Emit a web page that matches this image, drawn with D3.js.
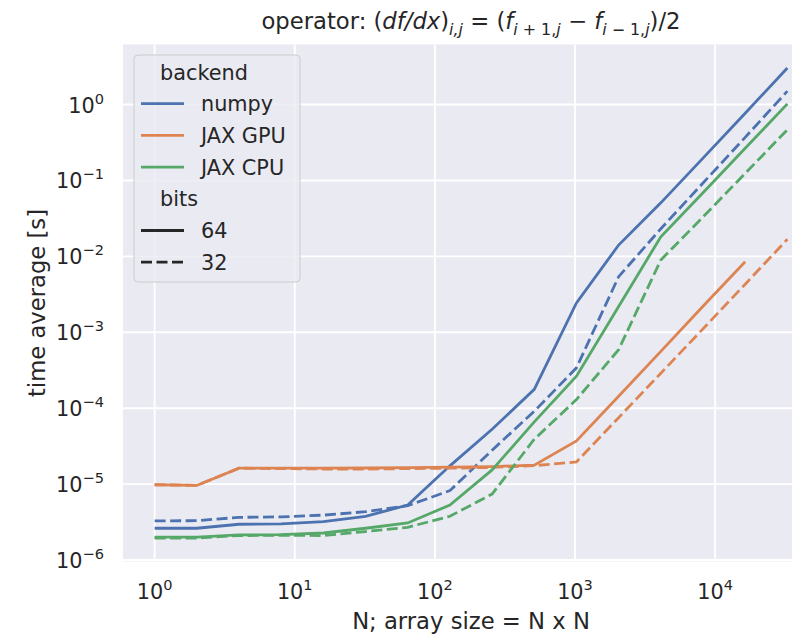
<!DOCTYPE html>
<meta charset="utf-8">
<head>
    <title>operator timing</title>
    <script src="https://cdn.jsdelivr.net/npm/d3@7"></script>
    <style>
        body { margin: 0; background: #fff; }
        text { font-family: "DejaVu Sans", sans-serif; fill: #262626; }
    </style>
</head>
<body>
    <svg></svg>
    <script>
        // chart values
        var sizes = [1, 2, 4, 8, 16, 32, 64, 128, 256, 512, 1024, 2048, 4096, 8192, 16384, 32768];

        var numpy64 = [2.62e-6, 2.62e-6, 2.96e-6, 3.0e-6, 3.2e-6, 3.77e-6, 5.3e-6, 1.74e-5, 5.27e-5, 1.77e-4, 2.43e-3, 1.41e-2, 5.07e-2, 0.197, 0.769, 3.03];
        var numpy32 = [3.27e-6, 3.3e-6, 3.65e-6, 3.7e-6, 3.9e-6, 4.33e-6, 5.2e-6, 8.2e-6, 2.8e-5, 9.1e-5, 3.4e-4, 5.4e-3, 2.31e-2, 9.25e-2, 0.37, 1.5];
        var gpu64 = [0.98e-5, 0.96e-5, 1.62e-5, 1.62e-5, 1.62e-5, 1.63e-5, 1.65e-5, 1.67e-5, 1.7e-5, 1.78e-5, 3.7e-5, 1.44e-4, 5.6e-4, 2.2e-3, 8.5e-3];
        var gpu32 = [0.98e-5, 0.96e-5, 1.62e-5, 1.6e-5, 1.58e-5, 1.58e-5, 1.6e-5, 1.62e-5, 1.66e-5, 1.75e-5, 1.96e-5, 7.5e-5, 2.89e-4, 1.11e-3, 4.3e-3, 1.68e-2];
        var cpu64 = [2.0e-6, 2.0e-6, 2.14e-6, 2.16e-6, 2.27e-6, 2.62e-6, 3.08e-6, 5.3e-6, 1.54e-5, 6.6e-5, 2.64e-4, 2.19e-3, 1.81e-2, 6.9e-2, 0.265, 1.02];
        var cpu32 = [1.95e-6, 1.95e-6, 2.1e-6, 2.12e-6, 2.1e-6, 2.37e-6, 2.7e-6, 3.77e-6, 7.4e-6, 3.9e-5, 1.3e-4, 5.9e-4, 8.97e-3, 3.3e-2, 0.124, 0.466];

        var backends = ["numpy", "JAX GPU", "JAX CPU"];
        var bits = ["64", "32"];
        var xTickExp = [0, 1, 2, 3, 4];
        var yTickExp = [-6, -5, -4, -3, -2, -1, 0];

        var series = [
            { backend: "numpy", bits: "64", values: numpy64 },
            { backend: "numpy", bits: "32", values: numpy32 },
            { backend: "JAX GPU", bits: "64", values: gpu64 },
            { backend: "JAX GPU", bits: "32", values: gpu32 },
            { backend: "JAX CPU", bits: "64", values: cpu64 },
            { backend: "JAX CPU", bits: "32", values: cpu32 }
        ];

        var colors = { "numpy": "#4c72b0", "JAX GPU": "#dd8452", "JAX CPU": "#55a868" };
        var dashes = { "64": null, "32": "11,4.5" };

        w = 792;
        h = 635;
        var pLeft = 123, pRight = 819, pTop = 44.5, pBottom = 561.5;

        var svg = d3.select("svg")
            .attr("width", w)
            .attr("height", h);

        // log axes with 5% margins like matplotlib
        var allY = [].concat(numpy64, numpy32, gpu64, gpu32, cpu64, cpu32);
        var lx0 = Math.log10(sizes[0]), lx1 = Math.log10(sizes[sizes.length - 1]);
        var mx = (lx1 - lx0) * 0.05;
        var ly0 = Math.log10(d3.min(allY)), ly1 = Math.log10(d3.max(allY));
        var my = (ly1 - ly0) * 0.05;

        var x = d3.scaleLog()
            .domain([Math.pow(10, lx0 - mx), Math.pow(10, lx1 + mx)])
            .range([pLeft, pRight]);
        var y = d3.scaleLog()
            .domain([Math.pow(10, ly0 - my), Math.pow(10, ly1 + my)])
            .range([pBottom, pTop]);

        svg.append("clipPath").attr("id", "plotclip")
            .append("rect")
            .attr("x", pLeft).attr("y", pTop)
            .attr("width", pRight - pLeft).attr("height", pBottom - pTop);

        svg.append("rect")
            .attr("x", pLeft).attr("y", pTop)
            .attr("width", pRight - pLeft).attr("height", pBottom - pTop)
            .attr("fill", "#eaeaf2");

        var grid = svg.append("g").attr("clip-path", "url(#plotclip)");
        grid.selectAll(".vg")
            .data(xTickExp)
            .enter().append("line")
            .attr("x1", function (d) { return x(Math.pow(10, d)); })
            .attr("x2", function (d) { return x(Math.pow(10, d)); })
            .attr("y1", pTop).attr("y2", pBottom)
            .attr("stroke", "#fff").attr("stroke-width", 1.9);
        grid.selectAll(".hg")
            .data(yTickExp)
            .enter().append("line")
            .attr("y1", function (d) { return y(Math.pow(10, d)); })
            .attr("y2", function (d) { return y(Math.pow(10, d)); })
            .attr("x1", pLeft).attr("x2", pRight)
            .attr("stroke", "#fff").attr("stroke-width", 1.9);

        var line = d3.line()
            .x(function (d, i) { return x(sizes[i]); })
            .y(function (d) { return y(d); });

        svg.append("g").attr("clip-path", "url(#plotclip)")
            .selectAll("path")
            .data(series)
            .enter().append("path")
            .attr("d", function (d) { return line(d.values); })
            .attr("fill", "none")
            .attr("stroke", function (d) { return colors[d.backend]; })
            .attr("stroke-width", 2.8)
            .attr("stroke-dasharray", function (d) { return dashes[d.bits]; });

        // tick labels as 10^n
        function powLabel(sel, e) {
            sel.append("tspan").text("10");
            sel.append("tspan")
                .attr("font-size", "0.7em")
                .attr("dy", "-0.62em")
                .text(e < 0 ? "\u2212" + (-e) : String(e));
        }

        svg.selectAll(".xt")
            .data(xTickExp)
            .enter().append("text")
            .attr("x", function (d) { return x(Math.pow(10, d)); })
            .attr("y", 599)
            .attr("text-anchor", "middle")
            .attr("font-size", 20.8)
            .each(function (d) { powLabel(d3.select(this), d); });

        svg.selectAll(".yt")
            .data(yTickExp)
            .enter().append("text")
            .attr("x", 104)
            .attr("y", function (d) { return y(Math.pow(10, d)) + 8; })
            .attr("text-anchor", "end")
            .attr("font-size", 20.8)
            .each(function (d) { powLabel(d3.select(this), d); });

        svg.append("text")
            .attr("x", (pLeft + pRight) / 2)
            .attr("y", 629)
            .attr("text-anchor", "middle")
            .attr("font-size", 22.7)
            .text("N; array size = N x N");

        svg.append("text")
            .attr("transform", "translate(45," + ((pTop + pBottom) / 2) + ") rotate(-90)")
            .attr("text-anchor", "middle")
            .attr("font-size", 22.7)
            .text("time average [s]");

        // title with math
        var title = svg.append("text")
            .attr("x", (pLeft + pRight) / 2)
            .attr("y", 29)
            .attr("text-anchor", "middle")
            .attr("font-size", 22.7);
        var parts = [
            ["operator: (", "n", 0],
            ["df/dx", "i", 0],
            [")", "n", 0],
            ["i,j", "is", 1],
            [" = (", "n", -1],
            ["f", "i", 0],
            ["i", "is", 1],
            [" + 1,", "s", 0],
            ["j", "is", 0],
            [" \u2212 ", "n", -1],
            ["f", "i", 0],
            ["i", "is", 1],
            [" \u2212 1,", "s", 0],
            ["j", "is", 0],
            [")/2", "n", -1]
        ];
        parts.forEach(function (p) {
            var t = title.append("tspan").text(p[0]);
            if (p[1] == "i" || p[1] == "is") t.attr("font-style", "italic");
            if (p[1] == "is" || p[1] == "s") t.attr("font-size", "15.9px");
            if (p[2] == 1) t.attr("dy", 6);
            if (p[2] == -1) t.attr("dy", -6);
        });

        // legend
        var lg = svg.append("g");
        lg.append("rect")
            .attr("x", 134).attr("y", 55)
            .attr("width", 166).attr("height", 227)
            .attr("rx", 4)
            .attr("fill", "#eaeaf2").attr("fill-opacity", 0.8)
            .attr("stroke", "#cccccc").attr("stroke-width", 1);

        var rows = [{ label: "backend", head: true }]
            .concat(backends.map(function (b) { return { label: b, color: colors[b], dash: null }; }))
            .concat([{ label: "bits", head: true }])
            .concat(bits.map(function (b) { return { label: b, color: "#262626", dash: dashes[b] }; }));

        rows.forEach(function (r, i) {
            var ry = 72 + i * 31.7;
            if (r.head) {
                lg.append("text").attr("x", 160).attr("y", ry + 7.5)
                    .attr("font-size", 20.8).text(r.label);
            } else {
                lg.append("line")
                    .attr("x1", 141).attr("x2", 184)
                    .attr("y1", ry).attr("y2", ry)
                    .attr("stroke", r.color).attr("stroke-width", 2.8)
                    .attr("stroke-dasharray", r.dash);
                lg.append("text").attr("x", 201).attr("y", ry + 7.5)
                    .attr("font-size", 20.8).text(r.label);
            }
        });
    </script>
</body>
</html>
